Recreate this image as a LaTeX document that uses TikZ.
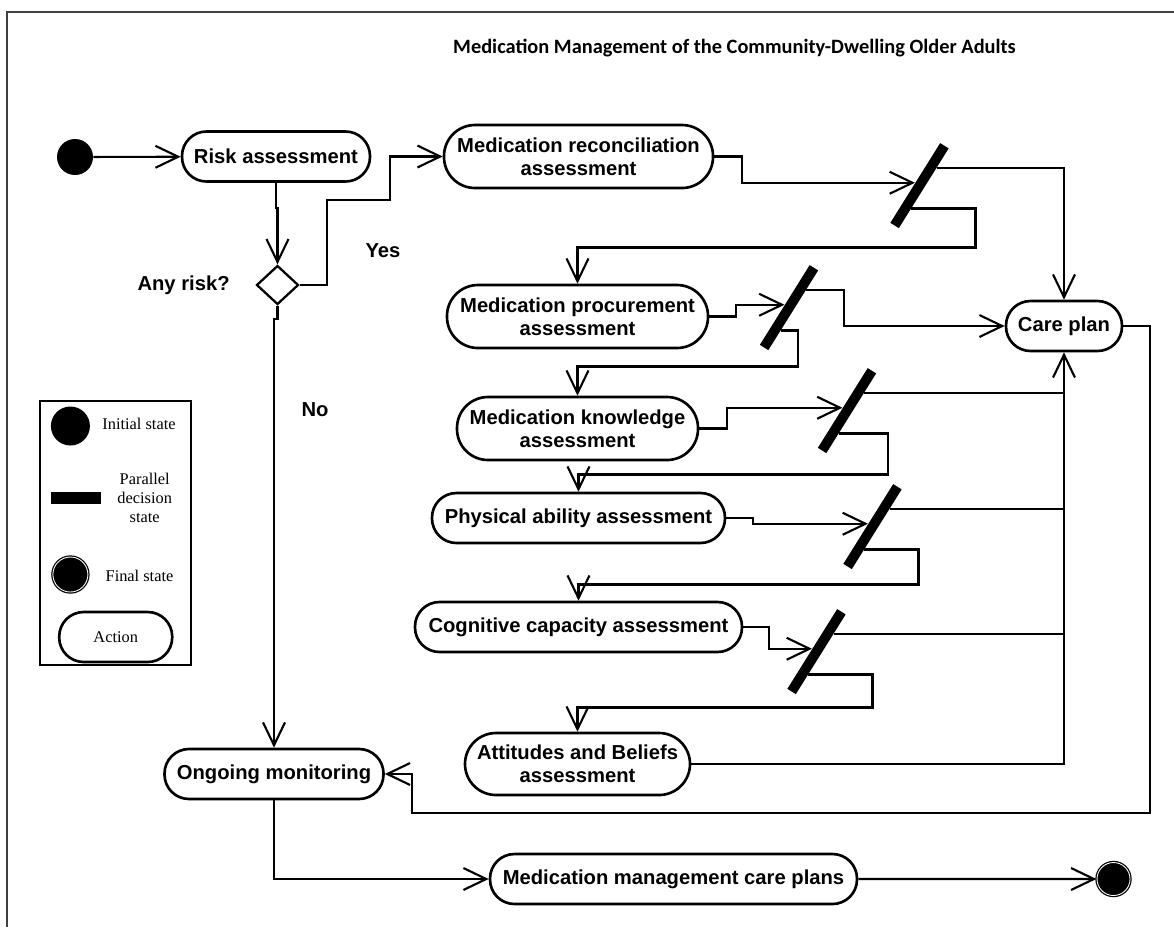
\documentclass[tikz,border=0pt]{standalone}
\usepackage{fontspec}
\setmainfont{Liberation Sans}
\newfontfamily\titlesans{Carlito}
\newfontfamily\legendserif{Liberation Serif}
\usetikzlibrary{arrows.meta,calc,shapes.geometric}
\newcommand{\actfont}{\fontsize{11.5}{13.1}\selectfont\bfseries}
\newcommand{\legfont}{\legendserif\fontsize{9.3}{10.8}\selectfont}
\tikzset{
  link/.style={line width=1.2pt},
  flow/.style={link, -{Straight Barb[length=13pt,width=12.5pt]}},
  action/.style={draw, line width=1.5pt, rounded corners=0.49cm, minimum height=1cm, align=center, font=\actfont},
  tallaction/.style={action, rounded corners=0.62cm, minimum height=1.26cm},
  forkbar/.style={fill=black, rotate=58, minimum width=1.88cm, minimum height=0.2cm},
  startdot/.style={circle, fill=black, minimum size=0.72cm},
  enddot/.style={circle, fill=black, draw=black, line width=0.7pt, double=white, double distance=0.5pt, minimum size=0.66cm}
}

\begin{document}
\begin{tikzpicture}[scale=0.2]
  \tikzstyle{every node}+=[inner sep=0pt]
  \useasboundingbox (0,0) rectangle (117.4,-92.7);
  \draw [black!75, line width=0.9pt] (0.7,-92.7) -- (0.7,-1.2) -- (117.4,-1.2);
  \draw (73.45,-4.8) node [font=\titlesans\bfseries\fontsize{11.6}{14}\selectfont] (title) {Medication Management of the Community-Dwelling Older Adults};
  \draw (7.5,-15.7) node [startdot] (init) {};
  \draw (27.6,-15.65) node [action, minimum width=3.76cm] (risk) {Risk assessment};
  \draw (27.75,-28.5) node [diamond, draw, line width=1.3pt, minimum width=0.84cm, minimum height=0.78cm] (dec) {};
  \draw (23.0,-28.5) node [anchor=east, font=\actfont] (anyrisk) {Any risk?};
  \draw (38.3,-25.1) node [font=\actfont] (yes) {Yes};
  \draw (31.5,-41.0) node [font=\actfont] (no) {No};
  \draw (57.85,-15.65) node [tallaction, minimum width=5.38cm] (recon) {Medication reconciliation\\assessment};
  \draw (57.75,-31.65) node [tallaction, minimum width=5.22cm] (procure) {Medication procurement\\assessment};
  \draw (57.75,-42.85) node [tallaction, minimum width=4.82cm] (know) {Medication knowledge\\assessment};
  \draw (57.85,-51.8) node [action, minimum width=5.86cm] (phys) {Physical ability assessment};
  \draw (57.85,-62.7) node [action, minimum width=6.54cm] (cogn) {Cognitive capacity assessment};
  \draw (57.75,-76.4) node [tallaction, minimum width=4.5cm, minimum height=1.24cm] (attit) {Attitudes and Beliefs\\assessment};
  \draw (106.4,-32.6) node [action, minimum width=2.32cm] (care) {Care plan};
  \draw (27.4,-77.4) node [action, minimum width=4.38cm] (ongo) {Ongoing monitoring};
  \draw (67.35,-87.9) node [action, minimum width=7.34cm] (mmcp) {Medication management care plans};
  \draw (111.35,-87.9) node [enddot] (final) {};
  \draw (91.95,-18.56) node [forkbar] (bar1) {};
  \draw (78.9,-30.76) node [forkbar] (bar2) {};
  \draw (84.7,-41.06) node [forkbar] (bar3) {};
  \draw (87.25,-52.66) node [forkbar] (bar4) {};
  \draw (81.65,-65.16) node [forkbar] (bar5) {};
  \foreach \b in {bar1,bar2,bar3,bar4,bar5} {
    \coordinate (up\b) at ($(\b.south west)!0.75!(\b.south east)$);
    \coordinate (dn\b) at ($(\b.south west)!0.25!(\b.south east)$);
  }
  \draw [flow] (init) -- (risk);
  \draw [flow] (risk.south) -- ++(0,-2.5) -| (dec);
  \draw [flow] (dec.east) -- ++(2.7,0) |- ++(6.3,8.5) |- (recon);
  \draw [flow] (dec.south) -- ++(0,-1.3) -| (ongo);
  \draw [flow] (recon.east) -- ++(2.8,0) |- (bar1.north);
  \draw [flow] (upbar1) -| (care);
  \draw [flow] (dnbar1) -- ++(6.4,0) -- ++(0,-3.9) -| (procure);
  \draw [flow] (procure.east) -- ++(2.7,0) |- (bar2.north);
  \draw [flow] (upbar2) -- ++(3.8,0) |- (care);
  \draw [flow] (dnbar2) -- ++(1.7,0) -- ++(0,-3.6) -| (know);
  \draw [flow] (know.east) -- ++(2.8,0) |- (bar3.north);
  \draw [link] (upbar3) -- (upbar3 -| care);
  \draw [flow] (dnbar3) -- ++(4.9,0) -- ++(0,-4.1) -| (phys);
  \draw [flow] (phys.east) -- ++(2.7,0) |- (bar4.north);
  \draw [link] (upbar4) -- (upbar4 -| care);
  \draw [flow] (dnbar4) -- ++(5.4,0) -- ++(0,-3.5) -| (cogn);
  \draw [flow] (cogn.east) -- ++(2.6,0) |- (bar5.north);
  \draw [link] (upbar5) -- (upbar5 -| care);
  \draw [flow] (dnbar5) -- ++(6.4,0) -- ++(0,-3.3) -| (attit);
  \draw [flow] (attit) -| (care);
  \draw [flow] (care.east) -- ++(2.7,0) -- ++(0,-48.7) -| ($(ongo.east)+(2.7,0)$) -- (ongo.east);
  \draw [flow] (ongo) |- (mmcp);
  \draw [flow] (mmcp) -- (final);
  \draw [line width=1.4pt] (4.0,-40.1) rectangle (19.1,-66.5);
  \draw (7.04,-42.6) node [startdot, minimum size=0.78cm] (keyinit) {};
  \draw (13.9,-42.4) node [font=\legfont] (keyinittext) {Initial state};
  \draw (7.6,-49.8) node [fill=black, minimum width=1cm, minimum height=0.24cm] (keybar) {};
  \draw (14.47,-49.8) node [font=\legfont, align=center] (keybartext) {Parallel\\decision\\state};
  \draw (7.04,-57.45) node [enddot, minimum size=0.7cm] (keyfinal) {};
  \draw (13.95,-57.6) node [font=\legfont] (keyfinaltext) {Final state};
  \draw (11.57,-63.7) node [action, minimum width=2.26cm, font=\legfont] (keyaction) {Action};
\end{tikzpicture}
\end{document}
